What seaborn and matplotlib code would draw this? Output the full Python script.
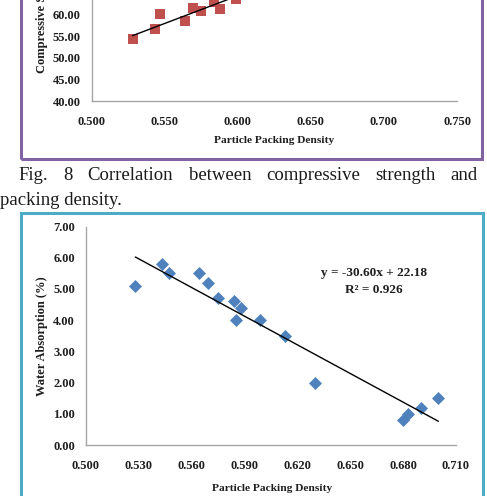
import numpy as np
import pandas as pd
import seaborn as sns
import matplotlib.pyplot as plt
from matplotlib.patches import Rectangle

# upper chart: compressive strength vs packing density (only lower part is visible)
cs_density = [0.528, 0.543, 0.547, 0.564, 0.569, 0.575, 0.584, 0.588, 0.599]
cs_strength = [54.4, 56.8, 60.2, 58.5, 61.6, 60.9, 63.0, 61.3, 63.6]
cs_slope, cs_intercept = 128.5, -12.7

# lower chart: water absorption vs packing density
wa_density = [0.528, 0.543, 0.547, 0.564, 0.569, 0.575, 0.584, 0.585, 0.588,
              0.599, 0.613, 0.630, 0.680, 0.683, 0.690, 0.700]
wa_absorption = [5.1, 5.8, 5.5, 5.5, 5.2, 4.7, 4.6, 4.0, 4.4,
                 4.0, 3.5, 2.0, 0.8, 1.0, 1.2, 1.5]
wa_slope, wa_intercept = -30.60, 22.18
wa_r2 = 0.926

top_xticks = [0.500, 0.550, 0.600, 0.650, 0.700, 0.750]
top_yticks = [40, 45, 50, 55, 60, 65, 70, 75, 80]
bot_xticks = [0.500, 0.530, 0.560, 0.590, 0.620, 0.650, 0.680, 0.710]
bot_yticks = [0, 1, 2, 3, 4, 5, 6, 7]

caption_1 = "Fig. 8 Correlation between compressive strength and"
caption_2 = "packing density."

sns.set_style("white")
plt.rcParams['font.family'] = ['Liberation Serif', 'DejaVu Serif']

W, H = 487, 496
TXT = '#1e1e1e'
fig = plt.figure(figsize=(W / 100, H / 100), dpi=100)


def box(x0, y0, x1, y1):
    # pixel box (top-left origin) -> figure fraction rect
    return [x0 / W, 1 - y1 / H, (x1 - x0) / W, (y1 - y0) / H]


def excel_axes(ax, xticks, yticks, xfmt, yfmt):
    sns.despine(ax=ax)
    for s in ['left', 'bottom']:
        ax.spines[s].set_color('#A6A6A6')
        ax.spines[s].set_linewidth(1)
    ax.set_xticks(xticks)
    ax.set_yticks(yticks)
    ax.set_xticklabels([xfmt % v for v in xticks], fontweight='bold')
    ax.set_yticklabels([yfmt % v for v in yticks], fontweight='bold')
    ax.tick_params(axis='both', direction='out', length=3, width=1,
                   color='#A6A6A6', labelsize=9, labelcolor=TXT)
    ax.tick_params(axis='x', pad=8)
    ax.tick_params(axis='y', pad=5)
    ax.set_xlim(xticks[0], xticks[-1])
    ax.set_ylim(yticks[0], yticks[-1])
    ax.patch.set_alpha(0)


# ---- upper chart ----
ax1 = fig.add_axes(box(91.7, -71.6, 457, 101))
excel_axes(ax1, top_xticks, top_yticks, '%.3f', '%.2f')
sns.scatterplot(x=cs_density, y=cs_strength, marker='s', s=48, color='#C0504D',
                edgecolor='#C0504D', linewidth=0, ax=ax1, zorder=3)
tx = np.array([min(cs_density), max(cs_density)])
sns.lineplot(x=tx, y=cs_slope * tx + cs_intercept, color='black', lw=1, ax=ax1, zorder=4)
ax1.set_xlabel('Particle Packing Density', fontsize=8.2, fontweight='bold', color=TXT)
ax1.xaxis.set_label_coords(0.5, -0.226)
ax1.xaxis.label.set_va('center')
ax1.set_ylabel('')
fig.text(41.7 / W, 1 - 73.3 / H, 'Compressive Strength (MPa)', rotation=90,
         ha='center', va='bottom', fontsize=9, fontweight='bold', color=TXT)

# ---- lower chart ----
ax2 = fig.add_axes(box(86, 226.5, 456, 445))
excel_axes(ax2, bot_xticks, bot_yticks, '%.3f', '%.2f')
sns.scatterplot(x=wa_density, y=wa_absorption, marker='D', s=44, color='#4F81BD',
                edgecolor='#4F81BD', linewidth=0, ax=ax2, zorder=3)
bx = np.array([min(wa_density), max(wa_density)])
sns.lineplot(x=bx, y=wa_slope * bx + wa_intercept, color='black', lw=1, ax=ax2, zorder=4)
ax2.set_xlabel('Particle Packing Density', fontsize=8.2, fontweight='bold', color=TXT)
ax2.xaxis.set_label_coords(0.503, -0.197)
ax2.xaxis.label.set_va('center')
ax2.set_ylabel('Water Absorption (%)', fontsize=9, fontweight='bold', color=TXT)
ax2.yaxis.set_label_coords(-0.1197, 0.5)
ax2.yaxis.label.set_va('center')
ax2.text(0.778, 0.786, f"y = {wa_slope:.2f}x + {wa_intercept:.2f}", transform=ax2.transAxes,
         ha='center', va='center', fontsize=9.5, fontweight='bold', color=TXT)
ax2.text(0.778, 0.710, f"R\u00b2 = {wa_r2:.3f}", transform=ax2.transAxes,
         ha='center', va='center', fontsize=9.5, fontweight='bold', color=TXT)

# ---- frames ----
fig.add_artist(Rectangle((20.5 / W, 1 - 159.3 / H), 461.5 / W, 180 / H, transform=fig.transFigure,
                         fill=False, edgecolor='#8064A2', lw=2.2, clip_on=False))
fig.add_artist(Rectangle((20.7 / W, -40 / H), 462 / W, (H + 40 - 213) / H, transform=fig.transFigure,
                         fill=False, edgecolor='#4BACC6', lw=2.2, clip_on=False))

# ---- caption (justified first line) ----
fig.canvas.draw()
rend = fig.canvas.get_renderer()
words = caption_1.split()
arts = [fig.text(0, 1 - 180 / H, w, fontsize=13.5, va='baseline', color='#1a1a1a') for w in words]
widths = [a.get_window_extent(rend).width for a in arts]
left, right = 18.3, 478
gap = (right - left - sum(widths)) / (len(words) - 1)
xpos = left
for a, w in zip(arts, widths):
    a.set_x(xpos / W)
    xpos += w + gap
fig.text(0, 1 - 205 / H, caption_2, fontsize=13.5, va='baseline', color='#1a1a1a')

fig.savefig('out.png', dpi=100)
